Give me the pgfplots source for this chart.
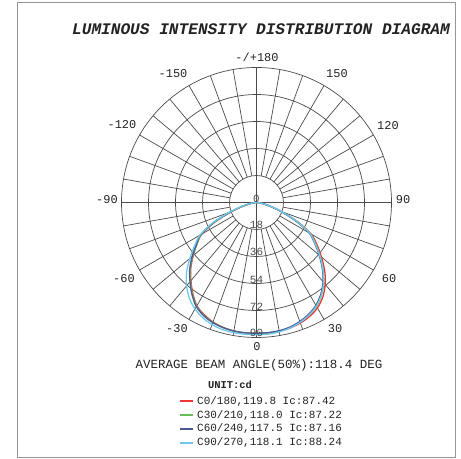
\documentclass[border=0pt]{standalone}
\usepackage{pgfplots}
\pgfplotsset{compat=1.18}
\usepackage{pgfplotstable}
\usepackage{fontspec}
\newfontfamily\cour{Liberation Mono}
\definecolor{cRed}{RGB}{235,55,55}
\definecolor{cGreen}{RGB}{105,190,85}
\definecolor{cBlue}{RGB}{75,90,150}
\definecolor{cCyan}{RGB}{110,200,235}
\definecolor{gridc}{RGB}{75,75,75}
\definecolor{txt}{RGB}{35,35,35}
\definecolor{framec}{RGB}{150,150,150}

\pgfplotstableread{
t r
-90 0
-85 1.5
-80 4
-75 9
-70 17.5
-65 30.5
-60 42
-55 48.5
-50 55
-45 62
-40 68
-35 74
-30 79.5
-25 82.5
-20 84.8
-15 86.2
-10 87
-5 87.3
0 87.4
5 87.4
10 87.2
15 86.6
20 85.5
25 83.8
30 81.2
35 77
40 71.3
45 64.3
50 56.5
55 49.3
60 42
65 30
70 17.5
75 9
80 4
85 1.5
90 0
}\redtab

\pgfplotstableread{
t r
-90 0
-85 1.5
-80 4.2
-75 9.5
-70 18
-65 31
-60 42.5
-55 48.5
-50 55.5
-45 62.5
-40 68.5
-35 74.5
-30 79.8
-25 83
-20 85
-15 86.3
-10 87
-5 87.2
0 87.2
5 87.2
10 87
15 86.2
20 84.8
25 82.8
30 80
35 75.5
40 69.8
45 62.8
50 55.2
55 48
60 41
65 29
70 17
75 9
80 4
85 1.5
90 0
}\greentab

\pgfplotstableread{
t r
-90 0
-85 1.5
-80 4.3
-75 9.8
-70 18.5
-65 31.5
-60 43
-55 49
-50 56
-45 63
-40 69
-35 75
-30 80.2
-25 83.3
-20 85.2
-15 86.3
-10 87
-5 87.2
0 87.2
5 87.1
10 86.8
15 86
20 84.4
25 82.2
30 79.2
35 74.7
40 69
45 62
50 54.5
55 47.3
60 40.5
65 28.7
70 17
75 9
80 4
85 1.5
90 0
}\bluetab

\pgfplotstableread{
t r
-90 0
-85 2
-80 5
-75 10.5
-70 19.5
-65 32.5
-60 43.5
-55 50.5
-50 58
-45 66
-40 72.5
-35 78
-30 82
-25 84.8
-20 86.6
-15 87.7
-10 88.1
-5 88.2
0 88.2
5 88.1
10 87.6
15 86.6
20 85
25 82.8
30 79.8
35 75.3
40 69.5
45 62.5
50 55
55 47.8
60 41
65 29.5
70 17.5
75 9.5
80 4.5
85 1.5
90 0
}\cyantab

\begin{document}
\begin{tikzpicture}
\begin{scope}[x=1bp,y=1bp]
\useasboundingbox (0,0) rectangle (461,459);
\draw[framec, line width=0.9bp] (17,2) rectangle (455,457);
\begin{scope}[shift={(256.5,256.5)}, draw=gridc, line width=0.7bp]
\foreach \rr in {27,54,81,108,135} \draw (0,0) circle[radius=\rr];
\foreach \a in {0,10,...,350} \draw (\a:27) -- (\a:135);
\draw[line width=0.8bp] (-135,0) -- (135,0);
\draw[line width=0.8bp] (0,-135) -- (0,135);
\end{scope}
\end{scope}

\begin{axis}[at={(256.5bp,256.5bp)}, anchor=center,
  scale only axis, width=270bp, height=270bp,
  xmin=-90, xmax=90, ymin=-90, ymax=90,
  hide axis, clip=false,
  legend style={at={(0.2019,-0.2104)}, anchor=north west, draw=none, fill=none,
    font=\cour\fontsize{11}{13}\selectfont,
    nodes={inner sep=0pt, text height=8bp, text depth=2bp},
    row sep=3.7bp, column sep=3bp},
  legend cell align=left,
  legend image code/.code={\draw[#1] (0bp,0bp) -- (13bp,0bp);},
]
\addplot[color=cRed, line width=1.3bp, smooth, data cs=polar, forget plot] table[x expr=\thisrow{t}-90, y=r]{\redtab};
\addplot[color=cGreen, line width=1.3bp, smooth, data cs=polar, forget plot] table[x expr=\thisrow{t}-90, y=r]{\greentab};
\addplot[color=cBlue, line width=1.3bp, smooth, data cs=polar, forget plot] table[x expr=\thisrow{t}-90, y=r]{\bluetab};
\addplot[color=cCyan, line width=1.3bp, smooth, data cs=polar, forget plot] table[x expr=\thisrow{t}-90, y=r]{\cyantab};
\addlegendimage{draw=cRed, line width=2bp}
\addlegendentry{\textcolor{txt}{C0/180,119.8 Ic:87.42}}
\addlegendimage{draw=cGreen, line width=2bp}
\addlegendentry{\textcolor{txt}{C30/210,118.0 Ic:87.22}}
\addlegendimage{draw=cBlue, line width=2bp}
\addlegendentry{\textcolor{txt}{C60/240,117.5 Ic:87.16}}
\addlegendimage{draw=cCyan, line width=2bp}
\addlegendentry{\textcolor{txt}{C90/270,118.1 Ic:88.24}}
\end{axis}

\begin{scope}[x=1bp,y=1bp, every node/.style={text=txt, inner sep=0pt}]
\node at (261,430) {\cour\bfseries\itshape\fontsize{16.2}{18}\selectfont LUMINOUS INTENSITY DISTRIBUTION DIAGRAM};
\begin{scope}[every node/.append style={font=\cour\fontsize{12}{14}\selectfont}]
\node at (257,402) {-/+180};
\node at (337,385) {150};
\node at (173,385) {-150};
\node at (388,333) {120};
\node at (122,334) {-120};
\node at (403,259) {90};
\node at (107,259) {-90};
\node at (389,180) {60};
\node at (124,180) {-60};
\node at (335,130) {30};
\node at (177,130) {-30};
\node at (257,112) {0};
\end{scope}
\begin{scope}[every node/.append style={font=\cour\fontsize{11}{13}\selectfont, text=gridc}]
\node at (256.5,260) {0};
\node at (256.5,234) {18};
\node at (256.5,207) {36};
\node at (256.5,179) {54};
\node at (256.5,152) {72};
\node at (256.5,126) {90};
\end{scope}
\node at (259,94) {\cour\fontsize{12.5}{14}\selectfont AVERAGE BEAM ANGLE(50\%):118.4 DEG};
\node at (230,74) {\cour\bfseries\fontsize{10.5}{12}\selectfont UNIT:cd};
\end{scope}
\end{tikzpicture}
\end{document}
